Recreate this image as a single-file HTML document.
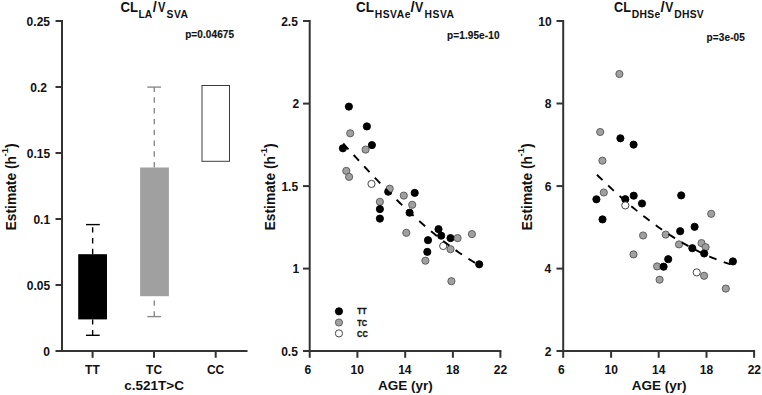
<!DOCTYPE html>
<html><head><meta charset="utf-8"><style>
html,body{margin:0;padding:0;background:#fff;}
svg{display:block;}
text{font-family:"Liberation Sans",sans-serif;font-weight:bold;fill:#111;}
</style></head><body>
<svg width="762" height="395" viewBox="0 0 762 395">
<rect width="762" height="395" fill="#fff"/>
<text transform="translate(26.62,26) scale(1.0000,1)" font-size="12">0.25</text>
<text transform="translate(30.23,92) scale(1.0000,1)" font-size="12">0.2</text>
<text transform="translate(26.73,158) scale(1.0000,1)" font-size="12">0.15</text>
<text transform="translate(33.38,224) scale(1.0000,1)" font-size="12">0.1</text>
<text transform="translate(26.73,290) scale(1.0000,1)" font-size="12">0.05</text>
<text transform="translate(43.30,356) scale(1.0000,1)" font-size="12">0</text>
<text transform="translate(85.12,374) scale(1.0000,1)" font-size="12">TT</text>
<text transform="translate(146.10,374) scale(1.0000,1)" font-size="12">TC</text>
<text transform="translate(206.90,374) scale(1.0000,1)" font-size="12">CC</text>
<text transform="translate(124.22,390) scale(1.0000,1)" font-size="13.5">c.521T&gt;C</text>
<text transform="translate(185.15,38) scale(1.0000,1)" font-size="10.0" style="letter-spacing:0.10px" stroke="#111" stroke-width="0.15">p=0.04675</text>
<text transform="translate(281.15,26) scale(1.0000,1)" font-size="12">2.5</text>
<text transform="translate(292.50,108) scale(1.0000,1)" font-size="12">2</text>
<text transform="translate(281.40,191) scale(1.0000,1)" font-size="12">1.5</text>
<text transform="translate(292.49,273) scale(1.0000,1)" font-size="12">1</text>
<text transform="translate(281.15,356) scale(1.0000,1)" font-size="12">0.5</text>
<text transform="translate(304.57,374) scale(1.0000,1)" font-size="12">6</text>
<text transform="translate(350.52,374) scale(1.0000,1)" font-size="12">10</text>
<text transform="translate(398.20,374) scale(1.0000,1)" font-size="12">14</text>
<text transform="translate(446.02,374) scale(1.0000,1)" font-size="12">18</text>
<text transform="translate(493.75,374) scale(1.0000,1)" font-size="12">22</text>
<text transform="translate(377.95,390) scale(1.0000,1)" font-size="13.5">AGE (yr)</text>
<text transform="translate(447.05,39) scale(1.0000,1)" font-size="10.0" style="letter-spacing:0.11px" stroke="#111" stroke-width="0.15">p=1.95e-10</text>
<text transform="translate(357.30,314) scale(0.8976,1)" font-size="8.4" stroke="#111" stroke-width="0.3">TT</text>
<text transform="translate(357.30,326) scale(0.8727,1)" font-size="8.4" stroke="#111" stroke-width="0.3">TC</text>
<text transform="translate(357.08,337) scale(0.8783,1)" font-size="8.4" stroke="#111" stroke-width="0.3">CC</text>
<text transform="translate(538.34,26) scale(1.0000,1)" font-size="12">10</text>
<text transform="translate(544.72,108) scale(1.0000,1)" font-size="12">8</text>
<text transform="translate(544.65,191) scale(1.0000,1)" font-size="12">6</text>
<text transform="translate(544.51,273) scale(1.0000,1)" font-size="12">4</text>
<text transform="translate(544.63,356) scale(1.0000,1)" font-size="12">2</text>
<text transform="translate(558.08,374) scale(1.0000,1)" font-size="12">6</text>
<text transform="translate(604.52,374) scale(1.0000,1)" font-size="12">10</text>
<text transform="translate(652.10,374) scale(1.0000,1)" font-size="12">14</text>
<text transform="translate(699.77,374) scale(1.0000,1)" font-size="12">18</text>
<text transform="translate(747.65,374) scale(1.0000,1)" font-size="12">22</text>
<text transform="translate(631.70,390) scale(1.0000,1)" font-size="13.5">AGE (yr)</text>
<text transform="translate(706.55,41) scale(1.0000,1)" font-size="10.0" style="letter-spacing:0.13px" stroke="#111" stroke-width="0.15">p=3e-05</text>
<text transform="translate(120.54,12) scale(0.9222,1)" font-size="14.3">CL</text>
<text transform="translate(138.45,18) scale(1.0000,1)" font-size="10.3" style="letter-spacing:0.05px">LA</text>
<text transform="translate(152.85,12) scale(1.0000,1)" font-size="14.3">/</text>
<text transform="translate(158.11,12) scale(0.7778,1)" font-size="14.3">V</text>
<text transform="translate(166.55,18) scale(1.0000,1)" font-size="10.3" style="letter-spacing:0.55px">SVA</text>
<text transform="translate(356.03,12) scale(0.9389,1)" font-size="14.3">CL</text>
<text transform="translate(374.75,18) scale(1.0000,1)" font-size="10.3" style="letter-spacing:0.52px">HSVAe</text>
<text transform="translate(410.44,12) scale(1.0571,1)" font-size="14.3">/</text>
<text transform="translate(415.08,12) scale(0.8667,1)" font-size="14.3">V</text>
<text transform="translate(424.55,18) scale(1.0000,1)" font-size="10.3" style="letter-spacing:0.52px">HSVA</text>
<text transform="translate(614.06,12) scale(0.8833,1)" font-size="14.3">CL</text>
<text transform="translate(631.85,18) scale(1.0000,1)" font-size="10.3" style="letter-spacing:0.30px">DHSe</text>
<text transform="translate(660.44,12) scale(1.0571,1)" font-size="14.3">/</text>
<text transform="translate(665.29,12) scale(0.8444,1)" font-size="14.3">V</text>
<text transform="translate(674.35,18) scale(1.0000,1)" font-size="10.3" style="letter-spacing:0.25px">DHSV</text>
<text transform="translate(15.6,230.4) rotate(-90)" font-size="13.8">Estimate (h<tspan font-size="9.5" dx="-0.5" dy="-7.9">-1</tspan><tspan dy="7.9">)</tspan></text>
<text transform="translate(274.6,230.4) rotate(-90)" font-size="13.8">Estimate (h<tspan font-size="9.5" dx="-0.5" dy="-7.9">-1</tspan><tspan dy="7.9">)</tspan></text>
<text transform="translate(531.6,230.4) rotate(-90)" font-size="13.8">Estimate (h<tspan font-size="9.5" dx="-0.5" dy="-7.9">-1</tspan><tspan dy="7.9">)</tspan></text>
<line x1="62.0" y1="20" x2="62.0" y2="352" stroke="#333" stroke-width="2" />
<line x1="55.5" y1="351.1" x2="247.5" y2="351.1" stroke="#333" stroke-width="2" />
<line x1="55.5" y1="21" x2="62.0" y2="21" stroke="#333" stroke-width="2" />
<line x1="55.5" y1="87" x2="62.0" y2="87" stroke="#333" stroke-width="2" />
<line x1="55.5" y1="153" x2="62.0" y2="153" stroke="#333" stroke-width="2" />
<line x1="55.5" y1="219" x2="62.0" y2="219" stroke="#333" stroke-width="2" />
<line x1="55.5" y1="285" x2="62.0" y2="285" stroke="#333" stroke-width="2" />
<line x1="92.6" y1="351.1" x2="92.6" y2="357.8" stroke="#333" stroke-width="2" />
<line x1="154" y1="351.1" x2="154" y2="357.8" stroke="#333" stroke-width="2" />
<line x1="215.7" y1="351.1" x2="215.7" y2="357.8" stroke="#333" stroke-width="2" />
<rect x="78.2" y="254.2" width="28.8" height="65.2" fill="#000"/>
<line x1="92.65" y1="335.3" x2="92.65" y2="319.4" stroke="#000" stroke-width="1.4" stroke-dasharray="5.4 5.4"/>
<line x1="86" y1="335.3" x2="99.7" y2="335.3" stroke="#000" stroke-width="1.4" />
<line x1="92.65" y1="254.2" x2="92.65" y2="224.6" stroke="#000" stroke-width="1.4" stroke-dasharray="5.4 5.4"/>
<line x1="86" y1="224.6" x2="99.8" y2="224.6" stroke="#000" stroke-width="1.4" />
<rect x="140.1" y="167.5" width="28.8" height="128.7" fill="#a0a0a0"/>
<line x1="154.3" y1="316.6" x2="154.3" y2="296.2" stroke="#8a8a8a" stroke-width="1.4" stroke-dasharray="5.4 5.4"/>
<line x1="147.3" y1="316.6" x2="161.1" y2="316.6" stroke="#8a8a8a" stroke-width="1.4" />
<line x1="154.3" y1="167.5" x2="154.3" y2="87.1" stroke="#8a8a8a" stroke-width="1.4" stroke-dasharray="5.4 5.4"/>
<line x1="147.3" y1="87.1" x2="161.1" y2="87.1" stroke="#8a8a8a" stroke-width="1.4" />
<rect x="202" y="85.5" width="27.5" height="75.8" fill="#fff" stroke="#3c3c3c" stroke-width="1"/>
<line x1="309.7" y1="20" x2="309.7" y2="352" stroke="#333" stroke-width="2" />
<line x1="303.0" y1="351.1" x2="501.4" y2="351.1" stroke="#333" stroke-width="2" />
<line x1="303.0" y1="21" x2="309.7" y2="21" stroke="#333" stroke-width="2" />
<line x1="303.0" y1="103.6" x2="309.7" y2="103.6" stroke="#333" stroke-width="2" />
<line x1="303.0" y1="186.1" x2="309.7" y2="186.1" stroke="#333" stroke-width="2" />
<line x1="303.0" y1="268.6" x2="309.7" y2="268.6" stroke="#333" stroke-width="2" />
<line x1="309.7" y1="351.1" x2="309.7" y2="357.8" stroke="#333" stroke-width="2" />
<line x1="357.4" y1="351.1" x2="357.4" y2="357.8" stroke="#333" stroke-width="2" />
<line x1="405.2" y1="351.1" x2="405.2" y2="357.8" stroke="#333" stroke-width="2" />
<line x1="452.9" y1="351.1" x2="452.9" y2="357.8" stroke="#333" stroke-width="2" />
<line x1="500.4" y1="351.1" x2="500.4" y2="357.8" stroke="#333" stroke-width="2" />
<circle cx="348.9" cy="106.6" r="3.6" fill="#000" stroke="#000" stroke-width="0.9"/>
<circle cx="366.9" cy="126.4" r="3.6" fill="#000" stroke="#000" stroke-width="0.9"/>
<circle cx="350.2" cy="133.3" r="3.6" fill="#a0a0a0" stroke="#555" stroke-width="0.9"/>
<circle cx="342.9" cy="148.3" r="3.6" fill="#000" stroke="#000" stroke-width="0.9"/>
<circle cx="371.9" cy="145.1" r="3.6" fill="#000" stroke="#000" stroke-width="0.9"/>
<circle cx="365.6" cy="149.6" r="3.6" fill="#a0a0a0" stroke="#555" stroke-width="0.9"/>
<circle cx="346.3" cy="170.9" r="3.6" fill="#a0a0a0" stroke="#555" stroke-width="0.9"/>
<circle cx="349.1" cy="176.9" r="3.6" fill="#a0a0a0" stroke="#555" stroke-width="0.9"/>
<circle cx="371.5" cy="183.9" r="3.6" fill="#fff" stroke="#333" stroke-width="0.9"/>
<circle cx="388.2" cy="191.7" r="3.6" fill="#000" stroke="#000" stroke-width="0.9"/>
<circle cx="389.7" cy="188.7" r="3.6" fill="#a0a0a0" stroke="#555" stroke-width="0.9"/>
<circle cx="414.7" cy="192.9" r="3.6" fill="#000" stroke="#000" stroke-width="0.9"/>
<circle cx="403.8" cy="195.6" r="3.6" fill="#a0a0a0" stroke="#555" stroke-width="0.9"/>
<circle cx="379.9" cy="201.8" r="3.6" fill="#a0a0a0" stroke="#555" stroke-width="0.9"/>
<circle cx="379.9" cy="209.1" r="3.6" fill="#000" stroke="#000" stroke-width="0.9"/>
<circle cx="379.9" cy="218.6" r="3.6" fill="#000" stroke="#000" stroke-width="0.9"/>
<circle cx="409.6" cy="212.7" r="3.6" fill="#000" stroke="#000" stroke-width="0.9"/>
<circle cx="412.2" cy="204.8" r="3.6" fill="#a0a0a0" stroke="#555" stroke-width="0.9"/>
<circle cx="406.3" cy="232.8" r="3.6" fill="#a0a0a0" stroke="#555" stroke-width="0.9"/>
<circle cx="438.5" cy="229.2" r="3.6" fill="#000" stroke="#000" stroke-width="0.9"/>
<circle cx="441.2" cy="235.7" r="3.6" fill="#000" stroke="#000" stroke-width="0.9"/>
<circle cx="428" cy="240.2" r="3.6" fill="#000" stroke="#000" stroke-width="0.9"/>
<circle cx="450.5" cy="238.1" r="3.6" fill="#000" stroke="#000" stroke-width="0.9"/>
<circle cx="457.6" cy="238.1" r="3.6" fill="#a0a0a0" stroke="#555" stroke-width="0.9"/>
<circle cx="471.9" cy="234.1" r="3.6" fill="#a0a0a0" stroke="#555" stroke-width="0.9"/>
<circle cx="443.2" cy="246" r="3.6" fill="#fff" stroke="#333" stroke-width="0.9"/>
<circle cx="450.5" cy="249.2" r="3.6" fill="#a0a0a0" stroke="#555" stroke-width="0.9"/>
<circle cx="427.3" cy="251.9" r="3.6" fill="#000" stroke="#000" stroke-width="0.9"/>
<circle cx="425.4" cy="260.7" r="3.6" fill="#a0a0a0" stroke="#555" stroke-width="0.9"/>
<circle cx="479.2" cy="264.3" r="3.6" fill="#000" stroke="#000" stroke-width="0.9"/>
<circle cx="451.4" cy="281.2" r="3.6" fill="#a0a0a0" stroke="#555" stroke-width="0.9"/>
<path d="M343.23,143.51 L345.50,146.02 L347.76,148.52 L350.03,151.02 L352.30,153.51 L354.57,155.99 L356.83,158.46 L359.10,160.92 L361.37,163.37 L363.64,165.81 L365.90,168.24 L368.17,170.66 L370.44,173.06 L372.70,175.45 L374.97,177.83 L377.24,180.20 L379.51,182.55 L381.77,184.89 L384.04,187.21 L386.31,189.51 L388.58,191.80 L390.84,194.08 L393.11,196.33 L395.38,198.57 L397.64,200.80 L399.91,203.00 L402.18,205.19 L404.45,207.35 L406.71,209.50 L408.98,211.63 L411.25,213.73 L413.52,215.82 L415.78,217.88 L418.05,219.93 L420.32,221.95 L422.59,223.94 L424.85,225.92 L427.12,227.87 L429.39,229.79 L431.65,231.70 L433.92,233.57 L436.19,235.43 L438.46,237.25 L440.72,239.05 L442.99,240.82 L445.26,242.57 L447.53,244.29 L449.79,245.97 L452.06,247.64 L454.33,249.27 L456.59,250.87 L458.86,252.44 L461.13,253.98 L463.40,255.49 L465.66,256.97 L467.93,258.42 L470.20,259.83 L472.47,261.21 L474.73,262.56 L477.00,263.88" fill="none" stroke="#000" stroke-width="1.9" stroke-dasharray="7.8 7.72"/>
<circle cx="338.95" cy="311.3" r="3.6" fill="#000" stroke="#000" stroke-width="0.9"/>
<circle cx="338.95" cy="322.5" r="3.6" fill="#a0a0a0" stroke="#555" stroke-width="0.9"/>
<circle cx="338.95" cy="333.4" r="3.6" fill="#fff" stroke="#333" stroke-width="0.9"/>
<line x1="563.2" y1="20" x2="563.2" y2="352" stroke="#333" stroke-width="2" />
<line x1="556.5" y1="351.1" x2="755.1" y2="351.1" stroke="#333" stroke-width="2" />
<line x1="556.5" y1="21" x2="563.2" y2="21" stroke="#333" stroke-width="2" />
<line x1="556.5" y1="103.5" x2="563.2" y2="103.5" stroke="#333" stroke-width="2" />
<line x1="556.5" y1="186.1" x2="563.2" y2="186.1" stroke="#333" stroke-width="2" />
<line x1="556.5" y1="268.6" x2="563.2" y2="268.6" stroke="#333" stroke-width="2" />
<line x1="563.2" y1="351.1" x2="563.2" y2="357.8" stroke="#333" stroke-width="2" />
<line x1="611.1" y1="351.1" x2="611.1" y2="357.8" stroke="#333" stroke-width="2" />
<line x1="658.7" y1="351.1" x2="658.7" y2="357.8" stroke="#333" stroke-width="2" />
<line x1="706.5" y1="351.1" x2="706.5" y2="357.8" stroke="#333" stroke-width="2" />
<line x1="754.1" y1="351.1" x2="754.1" y2="357.8" stroke="#333" stroke-width="2" />
<circle cx="619.4" cy="74" r="3.6" fill="#a0a0a0" stroke="#555" stroke-width="0.9"/>
<circle cx="600.2" cy="132" r="3.6" fill="#a0a0a0" stroke="#555" stroke-width="0.9"/>
<circle cx="620.4" cy="138.3" r="3.6" fill="#000" stroke="#000" stroke-width="0.9"/>
<circle cx="633.6" cy="144.6" r="3.6" fill="#000" stroke="#000" stroke-width="0.9"/>
<circle cx="602.4" cy="160.7" r="3.6" fill="#a0a0a0" stroke="#555" stroke-width="0.9"/>
<circle cx="603.8" cy="192.5" r="3.6" fill="#a0a0a0" stroke="#555" stroke-width="0.9"/>
<circle cx="596.4" cy="199.3" r="3.6" fill="#000" stroke="#000" stroke-width="0.9"/>
<circle cx="602.5" cy="219.4" r="3.6" fill="#000" stroke="#000" stroke-width="0.9"/>
<circle cx="625.3" cy="199.2" r="3.6" fill="#000" stroke="#000" stroke-width="0.9"/>
<circle cx="625.3" cy="205.4" r="3.6" fill="#fff" stroke="#333" stroke-width="0.9"/>
<circle cx="633.7" cy="195.7" r="3.6" fill="#000" stroke="#000" stroke-width="0.9"/>
<circle cx="642" cy="203.5" r="3.6" fill="#000" stroke="#000" stroke-width="0.9"/>
<circle cx="681.2" cy="195.4" r="3.6" fill="#000" stroke="#000" stroke-width="0.9"/>
<circle cx="711.2" cy="213.8" r="3.6" fill="#a0a0a0" stroke="#555" stroke-width="0.9"/>
<circle cx="643.1" cy="235.5" r="3.6" fill="#a0a0a0" stroke="#555" stroke-width="0.9"/>
<circle cx="665.7" cy="234.6" r="3.6" fill="#a0a0a0" stroke="#555" stroke-width="0.9"/>
<circle cx="680.2" cy="231.2" r="3.6" fill="#000" stroke="#000" stroke-width="0.9"/>
<circle cx="694.6" cy="226.8" r="3.6" fill="#000" stroke="#000" stroke-width="0.9"/>
<circle cx="633.5" cy="254.4" r="3.6" fill="#a0a0a0" stroke="#555" stroke-width="0.9"/>
<circle cx="679.0" cy="244.4" r="3.6" fill="#a0a0a0" stroke="#555" stroke-width="0.9"/>
<circle cx="692.3" cy="248.2" r="3.6" fill="#000" stroke="#000" stroke-width="0.9"/>
<circle cx="701.5" cy="243.1" r="3.6" fill="#a0a0a0" stroke="#555" stroke-width="0.9"/>
<circle cx="705.6" cy="247.2" r="3.6" fill="#a0a0a0" stroke="#555" stroke-width="0.9"/>
<circle cx="704.2" cy="253.5" r="3.6" fill="#000" stroke="#000" stroke-width="0.9"/>
<circle cx="732.9" cy="261.4" r="3.6" fill="#000" stroke="#000" stroke-width="0.9"/>
<circle cx="668.2" cy="259.2" r="3.6" fill="#000" stroke="#000" stroke-width="0.9"/>
<circle cx="657.1" cy="266.4" r="3.6" fill="#a0a0a0" stroke="#555" stroke-width="0.9"/>
<circle cx="663.6" cy="266.7" r="3.6" fill="#000" stroke="#000" stroke-width="0.9"/>
<circle cx="659.6" cy="279.7" r="3.6" fill="#a0a0a0" stroke="#555" stroke-width="0.9"/>
<circle cx="696.7" cy="272.4" r="3.6" fill="#fff" stroke="#333" stroke-width="0.9"/>
<circle cx="704.1" cy="275.8" r="3.6" fill="#a0a0a0" stroke="#555" stroke-width="0.9"/>
<circle cx="725.8" cy="288.6" r="3.6" fill="#a0a0a0" stroke="#555" stroke-width="0.9"/>
<path d="M596.96,174.72 L599.22,176.95 L601.49,179.16 L603.75,181.35 L606.02,183.52 L608.28,185.66 L610.55,187.79 L612.81,189.89 L615.08,191.97 L617.34,194.02 L619.61,196.05 L621.87,198.06 L624.14,200.05 L626.40,202.01 L628.67,203.95 L630.93,205.87 L633.20,207.76 L635.46,209.63 L637.73,211.48 L639.99,213.30 L642.26,215.09 L644.52,216.86 L646.79,218.61 L649.05,220.33 L651.32,222.03 L653.58,223.70 L655.85,225.34 L658.11,226.97 L660.38,228.56 L662.65,230.13 L664.91,231.67 L667.18,233.19 L669.44,234.68 L671.71,236.14 L673.97,237.58 L676.24,238.99 L678.50,240.37 L680.77,241.73 L683.03,243.06 L685.30,244.36 L687.56,245.63 L689.83,246.88 L692.09,248.09 L694.36,249.28 L696.62,250.45 L698.89,251.58 L701.15,252.68 L703.42,253.76 L705.68,254.81 L707.95,255.82 L710.21,256.81 L712.48,257.77 L714.74,258.70 L717.01,259.60 L719.27,260.47 L721.54,261.31 L723.80,262.12 L726.07,262.90 L728.33,263.65 L730.60,264.37" fill="none" stroke="#000" stroke-width="1.9" stroke-dasharray="7.8 7.72"/>
</svg></body></html>
